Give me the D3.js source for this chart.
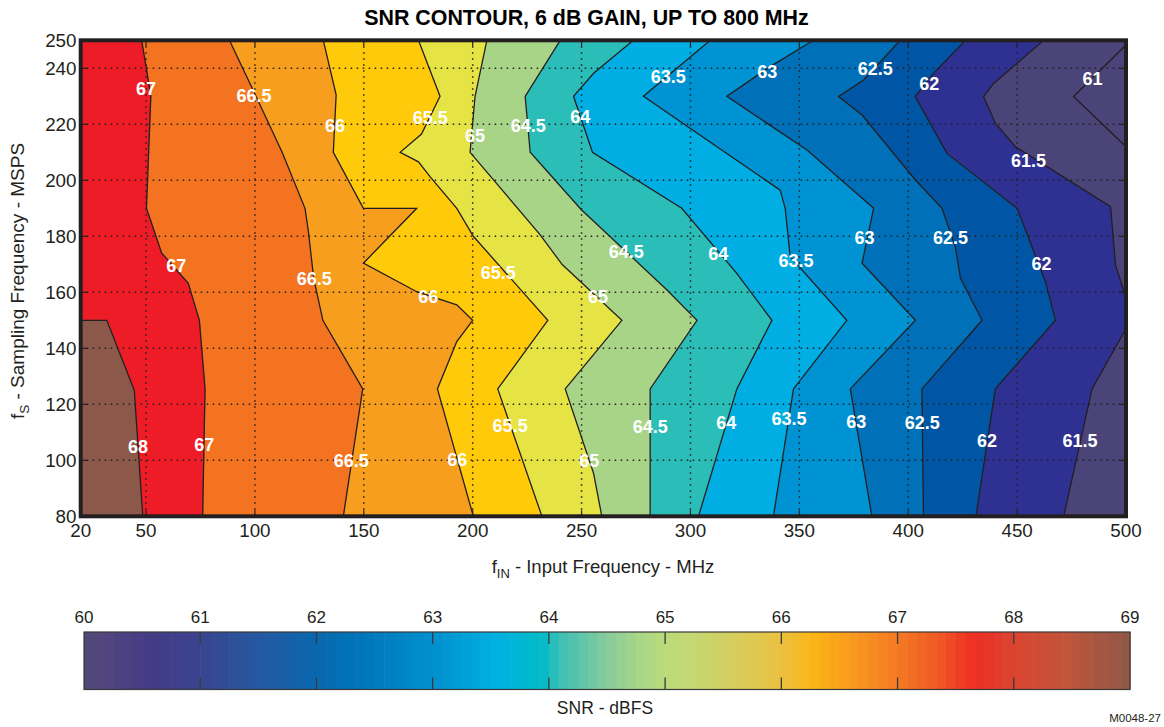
<!DOCTYPE html>
<html><head><meta charset="utf-8">
<script src="https://cdn.jsdelivr.net/npm/d3@7"></script>
<style>body{margin:0;background:#fff;} svg{display:block;font-family:"Liberation Sans",Arial,Helvetica,sans-serif;}</style>
</head><body><svg id="chart" width="1164" height="727"></svg>
<script>
// ---------------- data ----------------
const xTicks = [20, 50, 100, 150, 200, 250, 300, 350, 400, 450, 500];
const yTicks = [80, 100, 120, 140, 160, 180, 200, 220, 240, 250];
const cbTicks = [60, 61, 62, 63, 64, 65, 66, 67, 68, 69];

// contour levels and the colour of the band just above each level
const levels = [61, 61.5, 62, 62.5, 63, 63.5, 64, 64.5, 65, 65.5, 66, 66.5, 67, 68];
const bandColors = ["#4A4479", "#2E3192", "#0056A4", "#0071B9", "#0093D4", "#00AEE3", "#2BBDB8",
                    "#A8D488", "#E6E344", "#FFCA0A", "#F89E1E", "#F37321", "#ED1C26", "#8B584A"];
const lowestColor = "#4A4479";

// contour polylines [fIN (MHz), fS (MSPS)], ordered from start to end on the plot border
const line61   = [[500,212],[475.9,229.9],[500,248.3]];
const line61_5 = [[471.4,80],[484.4,125.5],[500,147],[500,158],[495.2,169.7],[492.9,190.6],[449.2,212],[440,220.4],[434.6,229.9],[439.2,234.6],[462.2,250]];
const line62   = [[431.1,80],[440,125.5],[467.6,150],[463,163.8],[450,190],[417.8,209.6],[403.2,229.9],[411.6,238.2],[426.3,250]];
const line62_5 = [[407,80],[406.3,125.5],[433.9,150],[424,165],[421.6,176.3],[415.5,190],[403.3,200.1],[378.8,223.3],[368,229.9],[379.5,235.8],[396.3,250]];
const line63   = [[383.3,80],[373.4,125.5],[403.3,150],[378.8,170.4],[384.1,190],[353.5,210.8],[316.7,230],[336.6,240.6],[356.5,250]];
const line63_5 = [[338.1,80],[347.3,125.5],[371.8,150],[345.8,172.7],[343.5,190],[341.2,196.5],[316.7,209.6],[278.4,230],[309.1,250]];
const line64   = [[303.7,80],[321.3,125.5],[337.4,150],[321,167],[296,190],[255,210],[246.3,230],[255.5,238.2],[273.8,250]];
const line64_5 = [[281.5,80],[281.5,125.5],[303,150],[289,161],[254.7,186],[250,189.4],[226.4,210],[224.1,230],[240.2,250]];
const line65   = [[259.3,80],[255.5,95.4],[242.5,125.5],[268.5,150],[241,170],[231,180.5],[198.8,210],[201.1,230],[206.5,250]];
const line65_5 = [[231.8,80],[211.5,125.5],[234.5,150],[200.3,180],[192.7,190],[180.4,201.3],[175.1,206.6],[166.7,210],[176.5,216.5],[185,230],[175.1,250]];
const line66   = [[200.3,80],[183.8,125.5],[192.7,142.4],[200,150],[192.7,155.5],[185,157.5],[174.3,160.2],[149.8,170.4],[174.3,190],[149.8,190],[136,210],[137.3,230.5],[131.4,250]];
const line66_5 = [[140.6,80],[149.5,125.5],[131.2,150],[127,165],[124.5,182],[123,190],[112.5,210],[100.5,230],[88.3,250]];
const line67   = [[76,80],[77.1,125.5],[74.5,150],[69.4,163.2],[57.2,174],[50.2,190],[51.2,210],[52.2,230],[51,236],[48,250]];
const line68   = [[48.5,80],[44.6,125],[32,150],[20,150]];
const contourLines = [line61, line61_5, line62, line62_5, line63, line63_5, line64, line64_5,
                      line65, line65_5, line66, line66_5, line67, line68];

// contour labels: [text, fIN, fS]
const contourLabels = [
  ["67",50,232.6],["66.5",99.6,230.1],["66",136.8,219.7],["65.5",180.5,222.3],["65",201.1,215.8],
  ["64.5",225.5,219.7],["64",249.4,222.6],["63.5",289.8,237.2],["63",335.3,238.7],["62.5",384.9,239.8],
  ["62",409.7,234.4],["61",484.6,236.5],["61.5",455.2,207.2],
  ["67",63.9,169.7],["66.5",127.2,165],["66",179.6,158.3],["65.5",211.7,166.9],["64.5",270.5,174.7],
  ["65",257.6,158.6],["64",312.8,174],["63.5",348.5,171.2],["63",379.9,179.7],["62.5",419.4,179.7],["62",461.2,170.1],
  ["68",46.3,104.8],["67",76.7,105.5],["66.5",144.2,99.8],["66",192.9,100.1],["65.5",217.2,112.5],
  ["65",253.5,99.8],["64.5",281.5,112.2],["64",316.4,113.6],["63.5",345.3,115],["63",376.1,113.9],
  ["62.5",406.4,113.6],["62",436.2,107.2],["61.5",478.9,107.2]
];

// colour bar gradient stops
const cbStopValues = [60, 60.6, 61, 61.5, 62, 62.3, 63, 63.55, 63.94, 64.1, 64.45, 64.75, 65, 65.4, 66, 66.27, 66.6, 67, 67.38, 67.66, 68, 68.46, 69];
const cbStopColors = ["#544A78","#453A86","#3A4490","#2458A0","#0A67AE","#0072B7","#0090CF","#00B0E1","#00BCC8","#3DBFB5","#7FCA9E","#A6D58A","#BADB7A","#CCD36A","#EBC140","#FBB615","#F89A1E","#F37A22","#F05525","#EE2D24","#DA4530","#C0553A","#8E5846"];

// ---------------- drawing ----------------
const svg = d3.select("#chart");
const X0 = 80.7, X1 = 1126, Y0 = 516.3, Y1 = 40.3;
const x = d3.scaleLinear().domain([20, 500]).range([X0, X1]);
const y = d3.scaleLinear().domain([80, 250]).range([Y0, Y1]);
const ink = "#231F20";

// perimeter parameter (counter-clockwise from bottom-left corner)
const [xmin, xmax] = x.domain(), [ymin, ymax] = y.domain();
function perim(p) {
  const e = 1e-6;
  if (Math.abs(p[1] - ymin) < e) return (p[0] - xmin) / (xmax - xmin);
  if (Math.abs(p[0] - xmax) < e) return 1 + (p[1] - ymin) / (ymax - ymin);
  if (Math.abs(p[1] - ymax) < e) return 2 + (xmax - p[0]) / (xmax - xmin);
  return 3 + (ymax - p[1]) / (ymax - ymin);
}
const corners = [[xmin, ymin], [xmax, ymin], [xmax, ymax], [xmin, ymax]];
function highRegion(line) {
  const s = line[0], e = line[line.length - 1];
  let ts = perim(s), te = perim(e);
  if (ts <= te) ts += 4;
  const pts = line.slice();
  for (let k = Math.floor(te) + 1; k < ts; k++) pts.push(corners[k % 4]);
  return pts;
}

svg.append("defs").append("clipPath").attr("id", "plotclip")
  .append("rect").attr("x", X0).attr("y", Y1).attr("width", X1 - X0).attr("height", Y0 - Y1);

const gFill = svg.append("g").attr("clip-path", "url(#plotclip)");
gFill.append("rect").attr("x", X0).attr("y", Y1).attr("width", X1 - X0).attr("height", Y0 - Y1).attr("fill", lowestColor);
const polyLine = d3.line().x(d => x(d[0])).y(d => y(d[1]));
contourLines.forEach((ln, i) => {
  gFill.append("path").attr("d", polyLine(highRegion(ln)) + "Z")
    .attr("fill", bandColors[i]).attr("stroke", bandColors[i]).attr("stroke-width", 0.5);
});

// grid (dotted)
const gGrid = svg.append("g").attr("stroke", ink).attr("stroke-width", 1.5).attr("stroke-dasharray", "1.5,4.5");
xTicks.slice(1, -1).forEach(v => gGrid.append("line").attr("x1", x(v)).attr("x2", x(v)).attr("y1", Y1).attr("y2", Y0));
yTicks.slice(1, -1).forEach(v => gGrid.append("line").attr("y1", y(v)).attr("y2", y(v)).attr("x1", X0).attr("x2", X1));

// contour lines
const gLines = svg.append("g").attr("clip-path", "url(#plotclip)");
contourLines.forEach(ln => {
  gLines.append("path").attr("d", polyLine(ln)).attr("fill", "none").attr("stroke", ink).attr("stroke-width", 1.3).attr("stroke-linejoin", "miter");
});

// tick marks (inward)
const gTick = svg.append("g").attr("stroke", ink).attr("stroke-width", 1.2);
xTicks.forEach(v => {
  gTick.append("line").attr("x1", x(v)).attr("x2", x(v)).attr("y1", Y0).attr("y2", Y0 - 6);
  gTick.append("line").attr("x1", x(v)).attr("x2", x(v)).attr("y1", Y1).attr("y2", Y1 + 6);
});
yTicks.forEach(v => {
  gTick.append("line").attr("y1", y(v)).attr("y2", y(v)).attr("x1", X0).attr("x2", X0 + 6);
  gTick.append("line").attr("y1", y(v)).attr("y2", y(v)).attr("x1", X1).attr("x2", X1 - 6);
});

// contour labels
svg.append("g").selectAll("text").data(contourLabels).join("text")
  .attr("x", d => x(d[1])).attr("y", d => y(d[2]) + 6.4)
  .attr("text-anchor", "middle").attr("fill", "#fff").attr("font-weight", "bold").attr("font-size", 18)
  .text(d => d[0]);

// frame
svg.append("rect").attr("x", X0).attr("y", Y1).attr("width", X1 - X0).attr("height", Y0 - Y1)
  .attr("fill", "none").attr("stroke", ink).attr("stroke-width", 4);

// tick labels
svg.append("g").selectAll("text").data(xTicks).join("text")
  .attr("x", d => x(d)).attr("y", 537).attr("text-anchor", "middle").attr("font-size", 18.8).attr("fill", ink).text(d => d);
svg.append("g").selectAll("text").data(yTicks).join("text")
  .attr("x", 76.5).attr("y", d => y(d) + 6.6).attr("text-anchor", "end").attr("font-size", 18.8).attr("fill", ink).text(d => d);

// title
svg.append("text").attr("x", 586.5).attr("y", 25).attr("text-anchor", "middle").attr("font-size", 21.4)
  .attr("font-weight", "bold").attr("fill", "#000").text("SNR CONTOUR, 6 dB GAIN, UP TO 800 MHz");

// axis titles
const xt = svg.append("text").attr("x", 603).attr("y", 573).attr("text-anchor", "middle").attr("font-size", 18.5).attr("fill", ink);
xt.append("tspan").text("f");
xt.append("tspan").attr("font-size", 13).attr("dy", 5).text("IN");
xt.append("tspan").attr("dy", -5).text(" - Input Frequency - MHz");
const yt = svg.append("text").attr("transform", "translate(24,281) rotate(-90)").attr("text-anchor", "middle").attr("font-size", 19).attr("fill", ink);
yt.append("tspan").text("f");
yt.append("tspan").attr("font-size", 13.5).attr("dy", 5).text("S");
yt.append("tspan").attr("dy", -5).text(" - Sampling Frequency - MSPS");

// colour bar
const CB0 = 84, CB1 = 1130, CBT = 632, CBB = 689.5;
const cx = d3.scaleLinear().domain([60, 69]).range([CB0, CB1]);
const cbColor = d3.scaleLinear().domain(cbStopValues).range(cbStopColors).interpolate(d3.interpolateRgb);
const step = 1 / 12;
const strips = d3.range(60, 69 - 1e-9, step);
svg.append("g").selectAll("rect").data(strips).join("rect")
  .attr("x", d => cx(d)).attr("y", CBT).attr("width", d => cx(d + step) - cx(d) + 0.6).attr("height", CBB - CBT)
  .attr("fill", d => cbColor(d + step / 2));
svg.append("rect").attr("x", CB0).attr("y", CBT).attr("width", CB1 - CB0).attr("height", CBB - CBT)
  .attr("fill", "none").attr("stroke", "#3a3a3a").attr("stroke-width", 1.2);
const gCbt = svg.append("g").attr("stroke", "#3a3a3a").attr("stroke-width", 1.3);
cbTicks.slice(1, -1).forEach(v => {
  gCbt.append("line").attr("x1", cx(v)).attr("x2", cx(v)).attr("y1", CBT).attr("y2", CBT + 12);
  gCbt.append("line").attr("x1", cx(v)).attr("x2", cx(v)).attr("y1", CBB).attr("y2", CBB - 12);
});
svg.append("g").selectAll("text").data(cbTicks).join("text")
  .attr("x", d => cx(d)).attr("y", 623).attr("text-anchor", "middle").attr("font-size", 17).attr("fill", ink).text(d => d);
svg.append("text").attr("x", 605).attr("y", 714).attr("text-anchor", "middle").attr("font-size", 17.5).attr("fill", ink).text("SNR - dBFS");
svg.append("text").attr("x", 1161).attr("y", 722).attr("text-anchor", "end").attr("font-size", 11.5).attr("fill", ink).text("M0048-27");
</script>
</body></html>
